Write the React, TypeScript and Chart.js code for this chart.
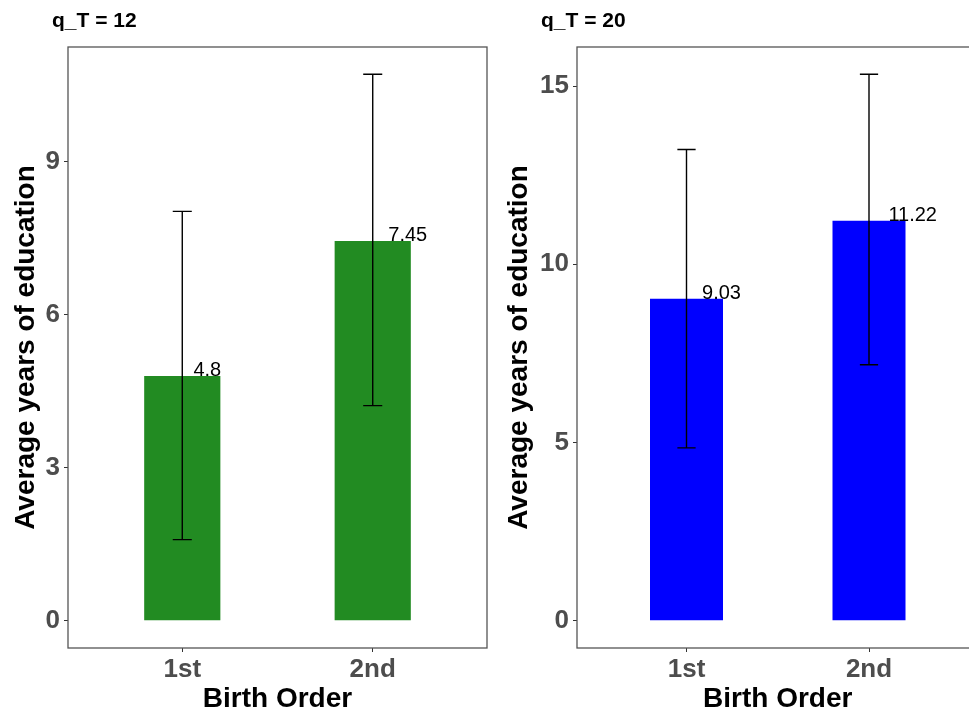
import React, { useEffect, useRef } from "react";
import { Chart, registerables } from "chart.js";

Chart.register(...registerables);

const FONT = "'Liberation Sans', Arial, Helvetica, sans-serif";

const categories = ["1st", "2nd"];

const leftTitle = "q_T = 12";
const leftMeans = [4.8, 7.45];
const leftLower = [1.59, 4.22];
const leftUpper = [8.03, 10.72];
const leftLabels = ["4.8", "7.45"];
const leftTicks = [0, 3, 6, 9];

const rightTitle = "q_T = 20";
const rightMeans = [9.03, 11.22];
const rightLower = [4.85, 7.18];
const rightUpper = [13.22, 15.33];
const rightLabels = ["9.03", "11.22"];
const rightTicks = [0, 5, 10, 15];

const yTitle = "Average years of education";
const xTitle = "Birth Order";

const panelPlugin = {
  id: "panelExtras",
  afterDatasetsDraw(chart: any, _args: any, opts: any) {
    const { ctx, chartArea } = chart;
    const xs = chart.scales.x;
    const ys = chart.scales.y;
    ctx.save();
    // error bars
    ctx.strokeStyle = "#000";
    ctx.lineWidth = 1.4;
    opts.lower.forEach((lo: number, i: number) => {
      const hi = opts.upper[i];
      const cx = xs.getPixelForValue(i);
      const hw = xs.getPixelForValue(i + 0.05) - cx;
      const yl = ys.getPixelForValue(lo);
      const yh = ys.getPixelForValue(hi);
      ctx.beginPath();
      ctx.moveTo(cx, yl);
      ctx.lineTo(cx, yh);
      ctx.moveTo(cx - hw, yl);
      ctx.lineTo(cx + hw, yl);
      ctx.moveTo(cx - hw, yh);
      ctx.lineTo(cx + hw, yh);
      ctx.stroke();
    });
    // value labels (hjust = -0.4, vjust = 0)
    ctx.font = `20px ${FONT}`;
    ctx.fillStyle = "#000";
    ctx.textAlign = "left";
    ctx.textBaseline = "alphabetic";
    opts.labels.forEach((t: string, i: number) => {
      const w = ctx.measureText(t).width;
      ctx.fillText(t, xs.getPixelForValue(i) + 0.4 * w, ys.getPixelForValue(opts.means[i]));
    });
    // panel border
    ctx.strokeStyle = "#555";
    ctx.lineWidth = 1.3;
    ctx.strokeRect(
      chartArea.left,
      chartArea.top,
      chartArea.right - chartArea.left,
      chartArea.bottom - chartArea.top
    );
    // panel title
    ctx.font = `bold 21px ${FONT}`;
    ctx.fillStyle = "#000";
    ctx.fillText(opts.title, opts.titleX, 27);
    ctx.restore();
  },
};

type PanelProps = {
  title: string;
  means: number[];
  lower: number[];
  upper: number[];
  labels: string[];
  ticks: number[];
  color: string;
  width: number;
  axisWidth: number;
  padRight: number;
  left: number;
  titleX: number;
  yTitlePad: number;
};

function Panel(p: PanelProps) {
  const ref = useRef<HTMLCanvasElement>(null);
  useEffect(() => {
    if (!ref.current) return;
    const hi = Math.max(...p.upper, ...p.means, 0);
    const lo = Math.min(0, ...p.lower);
    const pad = 0.05 * (hi - lo);
    const chart = new Chart(ref.current, {
      type: "bar",
      data: {
        datasets: [
          {
            data: p.means.map((v, i) => ({ x: i, y: v })),
            backgroundColor: p.color,
            borderWidth: 0,
            barPercentage: 0.4,
            categoryPercentage: 1,
          },
        ],
      },
      options: {
        responsive: false,
        animation: false,
        layout: { padding: { left: 0, top: 47, right: p.padRight, bottom: 0 } },
        plugins: {
          legend: { display: false },
          tooltip: { enabled: false },
          panelExtras: {
            lower: p.lower,
            upper: p.upper,
            means: p.means,
            labels: p.labels,
            title: p.title,
            titleX: p.titleX,
          },
        } as any,
        scales: {
          x: {
            type: "linear",
            min: -0.6,
            max: 1.6,
            offset: false,
            afterBuildTicks: (s: any) => {
              s.ticks = categories.map((_, i) => ({ value: i }));
            },
            afterFit: (s: any) => {
              s.height = 65;
            },
            ticks: {
              callback: (v: any) => categories[v] ?? "",
              font: { family: FONT, size: 26, weight: "bold" },
              color: "#4d4d4d",
              padding: 2,
              maxRotation: 0,
              autoSkip: false,
            },
            grid: {
              display: true,
              offset: false,
              drawOnChartArea: false,
              drawTicks: true,
              tickLength: 4,
              color: "#333",
            },
            border: { display: false },
            title: {
              display: true,
              text: xTitle,
              font: { family: FONT, size: 28, weight: "bold", lineHeight: 1.0 },
              color: "#000",
              padding: { top: 0, bottom: 0 },
            },
          },
          y: {
            type: "linear",
            min: lo - pad,
            max: hi + pad,
            afterBuildTicks: (s: any) => {
              s.ticks = p.ticks.map((v) => ({ value: v }));
            },
            afterFit: (s: any) => {
              s.width = p.axisWidth;
            },
            ticks: {
              callback: (v: any) => String(v),
              font: { family: FONT, size: 26, weight: "bold" },
              color: "#4d4d4d",
              padding: 4,
            },
            grid: {
              display: true,
              drawOnChartArea: false,
              drawTicks: true,
              tickLength: 4,
              color: "#333",
            },
            border: { display: false },
            title: {
              display: true,
              text: yTitle,
              font: { family: FONT, size: 28, weight: "bold", lineHeight: 1.2 },
              color: "#000",
              padding: { top: p.yTitlePad, bottom: 0 },
            },
          },
        },
      },
      plugins: [panelPlugin],
    } as any);
    return () => chart.destroy();
  }, []);
  return (
    <canvas
      ref={ref}
      width={p.width}
      height={713}
      style={{ position: "absolute", left: p.left, top: 0, display: "block" }}
    />
  );
}

export default function App() {
  return (
    <div
      style={{
        position: "absolute",
        left: 0,
        top: 0,
        width: 969,
        height: 713,
        overflow: "hidden",
        background: "#fff",
      }}
    >
      <Panel
        title={leftTitle}
        means={leftMeans}
        lower={leftLower}
        upper={leftUpper}
        labels={leftLabels}
        ticks={leftTicks}
        color="#228B22"
        width={490}
        axisWidth={68}
        padRight={3}
        left={0}
        titleX={52}
        yTitlePad={9}
      />
      <Panel
        title={rightTitle}
        means={rightMeans}
        lower={rightLower}
        upper={rightUpper}
        labels={rightLabels}
        ticks={rightTicks}
        color="#0000FF"
        width={510}
        axisWidth={87}
        padRight={21.5}
        left={490}
        titleX={51}
        yTitlePad={12}
      />
    </div>
  );
}
